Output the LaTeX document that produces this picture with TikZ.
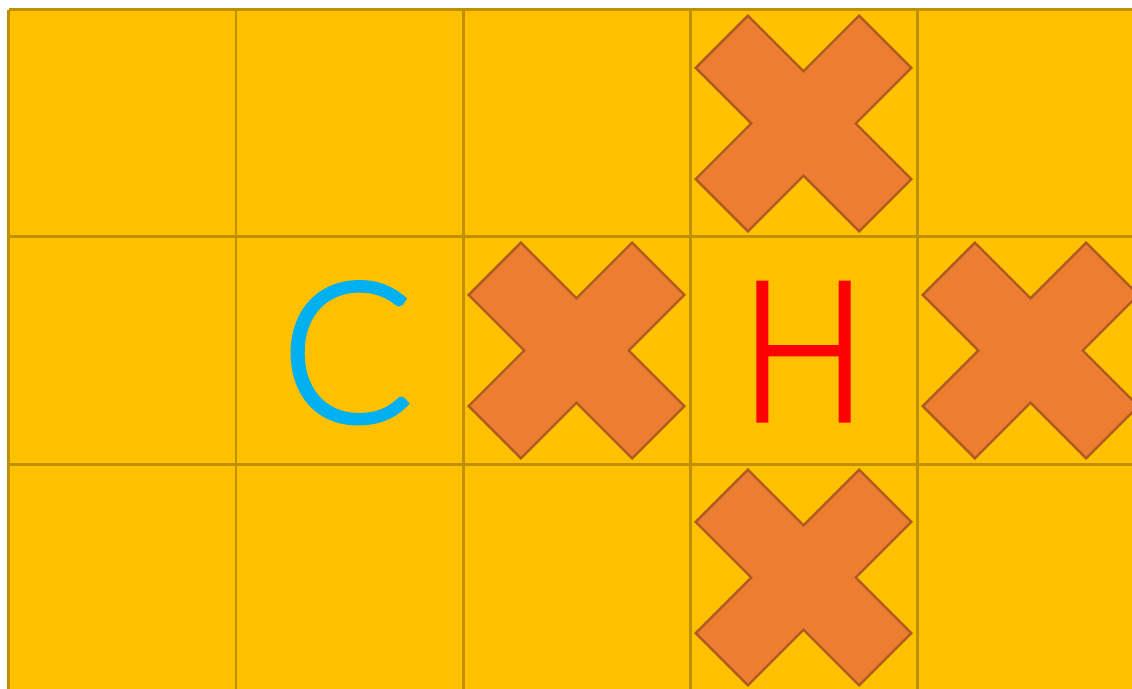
\documentclass[tikz,border=0pt]{standalone}
\usepackage{fontspec}
\usepackage{tikz}
\usepackage{xcolor}
\newfontfamily\letterfont{Lato Light}[FakeBold=2]
\definecolor{cellgold}{HTML}{FFC000}
\definecolor{gridbrown}{HTML}{BF9000}
\definecolor{blockorange}{HTML}{ED7D31}
\definecolor{blockedge}{HTML}{AE5A21}
\definecolor{startblue}{HTML}{00B0F0}

\tikzset{
  gridline/.style={draw=gridbrown, line width=1.5pt},
  blocked/.style={fill=blockorange, draw=blockedge, line width=1.2pt, line join=miter},
  letter/.style={inner sep=0pt, font=\letterfont\fontsize{98}{98}\selectfont},
  pics/blockcross/.style={code={
    \path[blocked] (0,0.23) -- (0.245,0.475) -- (0.475,0.245) -- (0.23,0)
      -- (0.475,-0.245) -- (0.245,-0.475) -- (0,-0.23) -- (-0.245,-0.475)
      -- (-0.475,-0.245) -- (-0.23,0) -- (-0.475,0.245) -- (-0.245,0.475) -- cycle;
  }}
}

\begin{document}
\begin{tikzpicture}[x=4cm, y=4cm]
\useasboundingbox (-0.0396,0.044) rectangle (4.947,-2.987);
\clip (-0.0396,0.044) rectangle (4.947,-2.987);

% Board of 5 x 3 cells
\fill[cellgold] (0,0) rectangle (5,-3);
\foreach \x in {0,...,5} \draw[gridline] (\x,0) -- (\x,-3);
\foreach \y in {0,...,3} \draw[gridline] (0,-\y) -- (5,-\y);

% Blocked cells around H
\pic at (3.5,-0.5) {blockcross};
\pic at (2.5,-1.5) {blockcross};
\pic at (4.5,-1.5) {blockcross};
\pic at (3.5,-2.5) {blockcross};

% Letters
\node[letter, text=startblue] (cat) at (1.49,-1.51) {C};
\node[letter, text=red, xscale=0.85, transform shape] (home) at (3.5,-1.505) {H};
\end{tikzpicture}
\end{document}
